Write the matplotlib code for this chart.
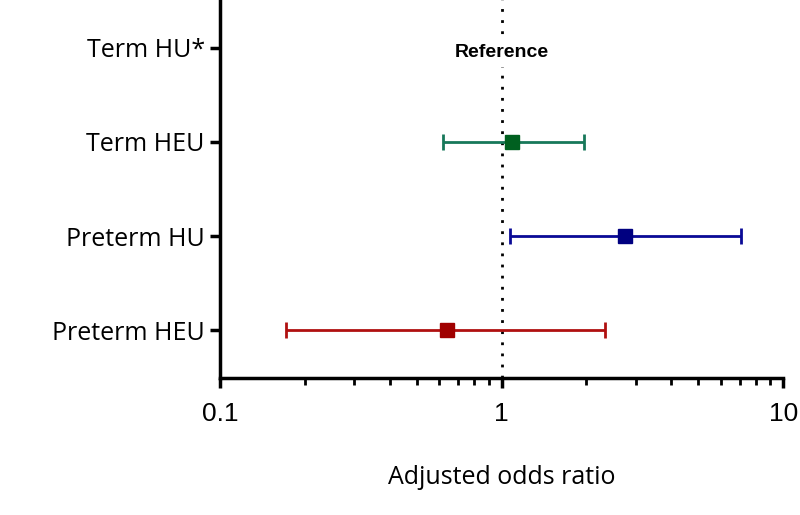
import matplotlib
matplotlib.use("Agg")
import matplotlib.pyplot as plt
from matplotlib.ticker import FixedLocator, LogLocator, NullFormatter
import numpy as np

# data
groups = ["Term HU*", "Term HEU", "Preterm HU", "Preterm HEU"]
odds = [None, 1.09, 2.74, 0.64]
ci_low = [None, 0.62, 1.07, 0.172]
ci_high = [None, 1.96, 7.08, 2.33]
line_colors = [None, "#17785a", "#0a0a96", "#b01010"]
marker_colors = [None, "#006020", "#000080", "#a00000"]

fig = plt.figure(figsize=(8, 5.15), dpi=100)
ax = fig.add_axes([0.275, 0.266, 0.704, 0.734])

ypos = np.arange(len(groups))[::-1]

for i, g in enumerate(groups):
    if odds[i] is None:
        continue
    err = [[odds[i] - ci_low[i]], [ci_high[i] - odds[i]]]
    ax.errorbar(odds[i], ypos[i], xerr=err, fmt="s", color=line_colors[i],
                ecolor=line_colors[i], mfc=marker_colors[i], mec=marker_colors[i],
                markersize=10, elinewidth=2, capsize=6, capthick=2, zorder=3)

ax.axvline(1, color="black", linestyle=(0, (1, 3)), linewidth=2, zorder=1)
ax.text(1, ypos[0] - 0.05, "Reference", ha="center", va="center",
        fontsize=14, fontweight="bold", family="Liberation Sans",
        bbox=dict(facecolor="white", edgecolor="none", pad=4), zorder=2)

ax.set_xscale("log")
ax.set_xlim(0.1, 10)
ax.set_ylim(-0.51, 3.51)
ax.xaxis.set_major_locator(FixedLocator([0.1, 1, 10]))
ax.xaxis.set_minor_locator(LogLocator(base=10, subs=np.arange(2, 10)))
ax.xaxis.set_minor_formatter(NullFormatter())
ax.set_xticklabels(["0.1", "1", "10"], family="Liberation Sans", fontsize=19)

ax.set_yticks(ypos)
ax.set_yticklabels(groups, family="Open Sans", fontsize=18)

ax.spines["top"].set_visible(False)
ax.spines["right"].set_visible(False)
ax.spines["left"].set_linewidth(2.5)
ax.spines["bottom"].set_linewidth(2.5)
ax.tick_params(axis="both", which="major", length=7, width=2.5)
ax.tick_params(axis="y", pad=4)
ax.tick_params(axis="x", pad=10)
ax.tick_params(axis="x", which="minor", length=5, width=2)

ax.set_xlabel("Adjusted odds ratio", family="Open Sans", fontsize=18, labelpad=28)

fig.savefig("out.png", dpi=100)
